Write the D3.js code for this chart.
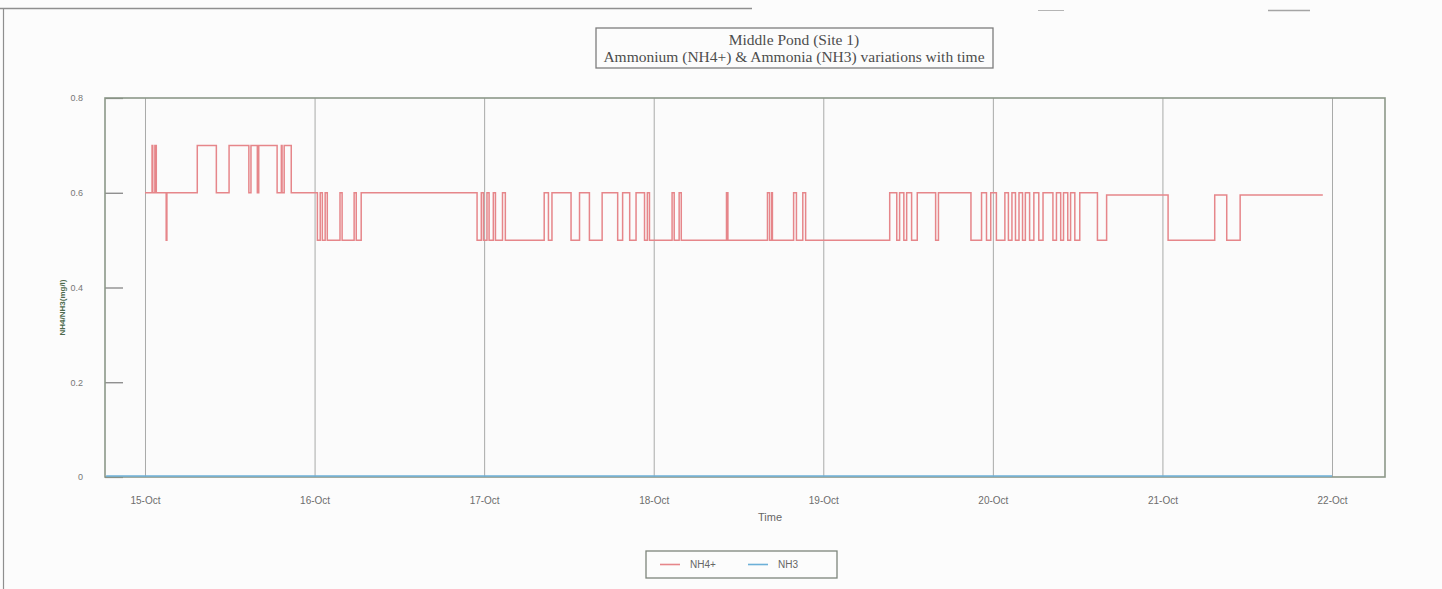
<!DOCTYPE html>
<html>
<head>
<meta charset="utf-8">
<script src="https://cdn.jsdelivr.net/npm/d3@7"></script>
<style>
  html, body { margin: 0; padding: 0; background: #fcfcfc; }
  svg { display: block; }
</style>
</head>
<body>
<svg id="chart" width="1442" height="589"></svg>
<script>
// ---- Data (hours since 15-Oct 00:00, value valid from that hour on) ----
const titleLines = ["Middle Pond (Site 1)", "Ammonium (NH4+) & Ammonia (NH3) variations with time"];
const yTicks = [0, 0.2, 0.4, 0.6, 0.8];
const dayTicks = ["15-Oct", "16-Oct", "17-Oct", "18-Oct", "19-Oct", "20-Oct", "21-Oct", "22-Oct"];
const seriesNames = ["NH4+", "NH3"];

const nh4Hours = [
  0.0, 1.0, 1.1, 1.4, 1.6, 3.0, 3.1, 7.4, 10.1, 11.9, 14.7, 15.0, 15.9, 16.1, 18.7, 19.3, 19.4, 19.7, 20.7,
  24.4, 24.8, 25.1, 25.5, 25.8, 27.6, 27.9, 29.6, 29.9, 30.6,
  47.0, 47.6, 47.9, 48.4, 48.7, 49.3, 49.6, 50.6, 51.0, 56.5, 57.1, 57.6, 60.3, 61.5, 62.9, 64.7, 66.9, 67.6,
  68.6, 69.5, 70.7, 71.1, 71.4,
  74.6, 74.9, 75.6, 75.9, 82.3, 82.5, 88.1, 88.4, 88.7, 88.8, 91.8, 92.2, 93.1, 93.5,
  105.4, 106.4, 106.8, 107.4, 107.8, 108.5, 109.3, 111.9, 112.3, 116.9, 118.4, 119.1,
  119.7, 120.5, 121.7, 122.2, 122.7, 123.2, 123.7, 124.2, 124.6, 125.2, 125.8, 126.5, 127.1, 128.5, 129.0,
  129.6, 130.0, 130.6, 131.0, 131.6, 132.3, 134.8, 136.1,
  144.8, 151.4, 153.1, 155.0, 166.7
];
const nh4Values = [
  0.6, 0.7, 0.6, 0.7, 0.6, 0.5, 0.6, 0.7, 0.6, 0.7, 0.6, 0.7, 0.6, 0.7, 0.6, 0.7, 0.6, 0.7, 0.6,
  0.5, 0.6, 0.5, 0.6, 0.5, 0.6, 0.5, 0.6, 0.5, 0.6,
  0.5, 0.6, 0.5, 0.6, 0.5, 0.6, 0.5, 0.6, 0.5, 0.6, 0.5, 0.6, 0.5, 0.6, 0.5, 0.6, 0.5, 0.6,
  0.5, 0.6, 0.5, 0.6, 0.5,
  0.6, 0.5, 0.6, 0.5, 0.6, 0.5, 0.6, 0.5, 0.6, 0.5, 0.6, 0.5, 0.6, 0.5,
  0.6, 0.5, 0.6, 0.5, 0.6, 0.5, 0.6, 0.5, 0.6, 0.5, 0.6, 0.5,
  0.6, 0.5, 0.6, 0.5, 0.6, 0.5, 0.6, 0.5, 0.6, 0.5, 0.6, 0.5, 0.6, 0.5, 0.6,
  0.5, 0.6, 0.5, 0.6, 0.5, 0.6, 0.5, 0.595,
  0.5, 0.595, 0.5, 0.595, 0.595
];
const nh3Hours = [-5.5, 0.0, 84.0, 168.0];
const nh3Values = [0.002, 0.002, 0.002, 0.002];

// ---- Layout ----
const svg = d3.select("#chart");
const W = 1442, H = 589;
const plot = { left: 105, right: 1385, top: 98, bottom: 477 };
const base = new Date(2004, 9, 15, 0, 0, 0);
const toDate = h => new Date(base.getTime() + h * 3600e3);

const x = d3.scaleTime()
  .domain([toDate(-5.66), toDate(175.5)])
  .range([plot.left, plot.right]);
const y = d3.scaleLinear().domain([0, 0.8]).range([plot.bottom, plot.top]);

// outer frame remnants (scanned page border)
const frame = svg.append("g").attr("stroke", "#8f8f8f").attr("fill", "none");
frame.append("line").attr("x1", 0).attr("x2", 752).attr("y1", 8.5).attr("y2", 8.5).attr("stroke-width", 1.5);
frame.append("line").attr("x1", 3.5).attr("x2", 3.5).attr("y1", 8).attr("y2", H).attr("stroke-width", 1.2);
frame.append("line").attr("x1", 1038).attr("x2", 1064).attr("y1", 10.5).attr("y2", 10.5).attr("stroke", "#b5b5b5");
frame.append("line").attr("x1", 1268).attr("x2", 1310).attr("y1", 10.5).attr("y2", 10.5).attr("stroke", "#a5a5a5").attr("stroke-width", 1.5);

// plot background
svg.append("rect")
  .attr("x", plot.left).attr("y", plot.top)
  .attr("width", plot.right - plot.left).attr("height", plot.bottom - plot.top)
  .attr("fill", "#fbfbfb");

// vertical gridlines via x axis
const xAxis = d3.axisBottom(x)
  .tickValues(dayTicks.map((d, i) => toDate(i * 24)))
  .tickFormat((d, i) => dayTicks[i])
  .tickSize(-(plot.bottom - plot.top))
  .tickPadding(20);
const gx = svg.append("g").attr("transform", `translate(0,${plot.bottom})`).call(xAxis);
gx.select(".domain").remove();
gx.selectAll(".tick line").attr("stroke", "#a9aaa9").attr("stroke-width", 1);
gx.selectAll(".tick text")
  .attr("font-family", "Liberation Sans, Arial, sans-serif")
  .attr("font-size", 10).attr("fill", "#6d6d6d");

// y axis
const yAxis = d3.axisLeft(y).tickValues(yTicks)
  .tickFormat(d => d === 0 ? "0" : d3.format(".1f")(d))
  .tickSize(-18).tickPadding(22);
const gy = svg.append("g").attr("transform", `translate(${plot.left},0)`).call(yAxis);
gy.select(".domain").remove();
gy.selectAll(".tick line").attr("stroke", "#7c7c7c").attr("stroke-width", 1.2);
gy.selectAll(".tick text")
  .attr("font-family", "Liberation Sans, Arial, sans-serif")
  .attr("font-size", 9).attr("fill", "#777");

// plot frame
svg.append("rect")
  .attr("x", plot.left).attr("y", plot.top)
  .attr("width", plot.right - plot.left).attr("height", plot.bottom - plot.top)
  .attr("fill", "none").attr("stroke", "#8c9889").attr("stroke-width", 1.6);

// series
const line = d3.line().x(d => x(d[0])).y(d => y(d[1])).curve(d3.curveStepAfter);
const nh4 = nh4Hours.map((h, i) => [toDate(h), nh4Values[i]]);
const nh3 = nh3Hours.map((h, i) => [toDate(h), nh3Values[i]]);
svg.append("path").datum(nh3).attr("d", line)
  .attr("fill", "none").attr("stroke", "#6cb0d8").attr("stroke-width", 1.6);
svg.append("path").datum(nh4).attr("d", line)
  .attr("fill", "none").attr("stroke", "#e6868a").attr("stroke-width", 1.5);

// axis titles
svg.append("text").attr("x", 770).attr("y", 521).attr("text-anchor", "middle")
  .attr("font-family", "Liberation Sans, Arial, sans-serif").attr("font-size", 11).attr("fill", "#666")
  .text("Time");
svg.append("text")
  .attr("transform", `translate(65,${(plot.top + plot.bottom) / 2 + 20}) rotate(-90)`)
  .attr("text-anchor", "middle")
  .attr("font-family", "Liberation Sans, Arial, sans-serif").attr("font-size", 8).attr("font-weight", "bold")
  .attr("fill", "#4d6a4d")
  .text("NH4/NH3(mg/l)");

// title box
svg.append("rect").attr("x", 596).attr("y", 28).attr("width", 397).attr("height", 40)
  .attr("fill", "#fcfcfc").attr("stroke", "#7d7d7d").attr("stroke-width", 1.3);
svg.selectAll("text.title").data(titleLines).join("text")
  .attr("class", "title")
  .attr("x", 794).attr("y", (d, i) => 45 + i * 17)
  .attr("text-anchor", "middle")
  .attr("font-family", "Liberation Serif, Times New Roman, serif")
  .attr("font-size", 15.5).attr("fill", "#4d4d4d")
  .text(d => d);

// legend
const lg = svg.append("g");
lg.append("rect").attr("x", 646).attr("y", 551).attr("width", 191).attr("height", 27)
  .attr("fill", "#fcfcfc").attr("stroke", "#7d857b").attr("stroke-width", 1.3);
const legendColors = ["#e6868a", "#6cb0d8"];
const legendX = [660, 748];
seriesNames.forEach((name, i) => {
  lg.append("line").attr("x1", legendX[i]).attr("x2", legendX[i] + 20)
    .attr("y1", 564.5).attr("y2", 564.5).attr("stroke", legendColors[i]).attr("stroke-width", 1.6);
  lg.append("text").attr("x", legendX[i] + 30).attr("y", 568)
    .attr("font-family", "Liberation Sans, Arial, sans-serif").attr("font-size", 10).attr("fill", "#666")
    .text(name);
});
</script>
</body>
</html>
